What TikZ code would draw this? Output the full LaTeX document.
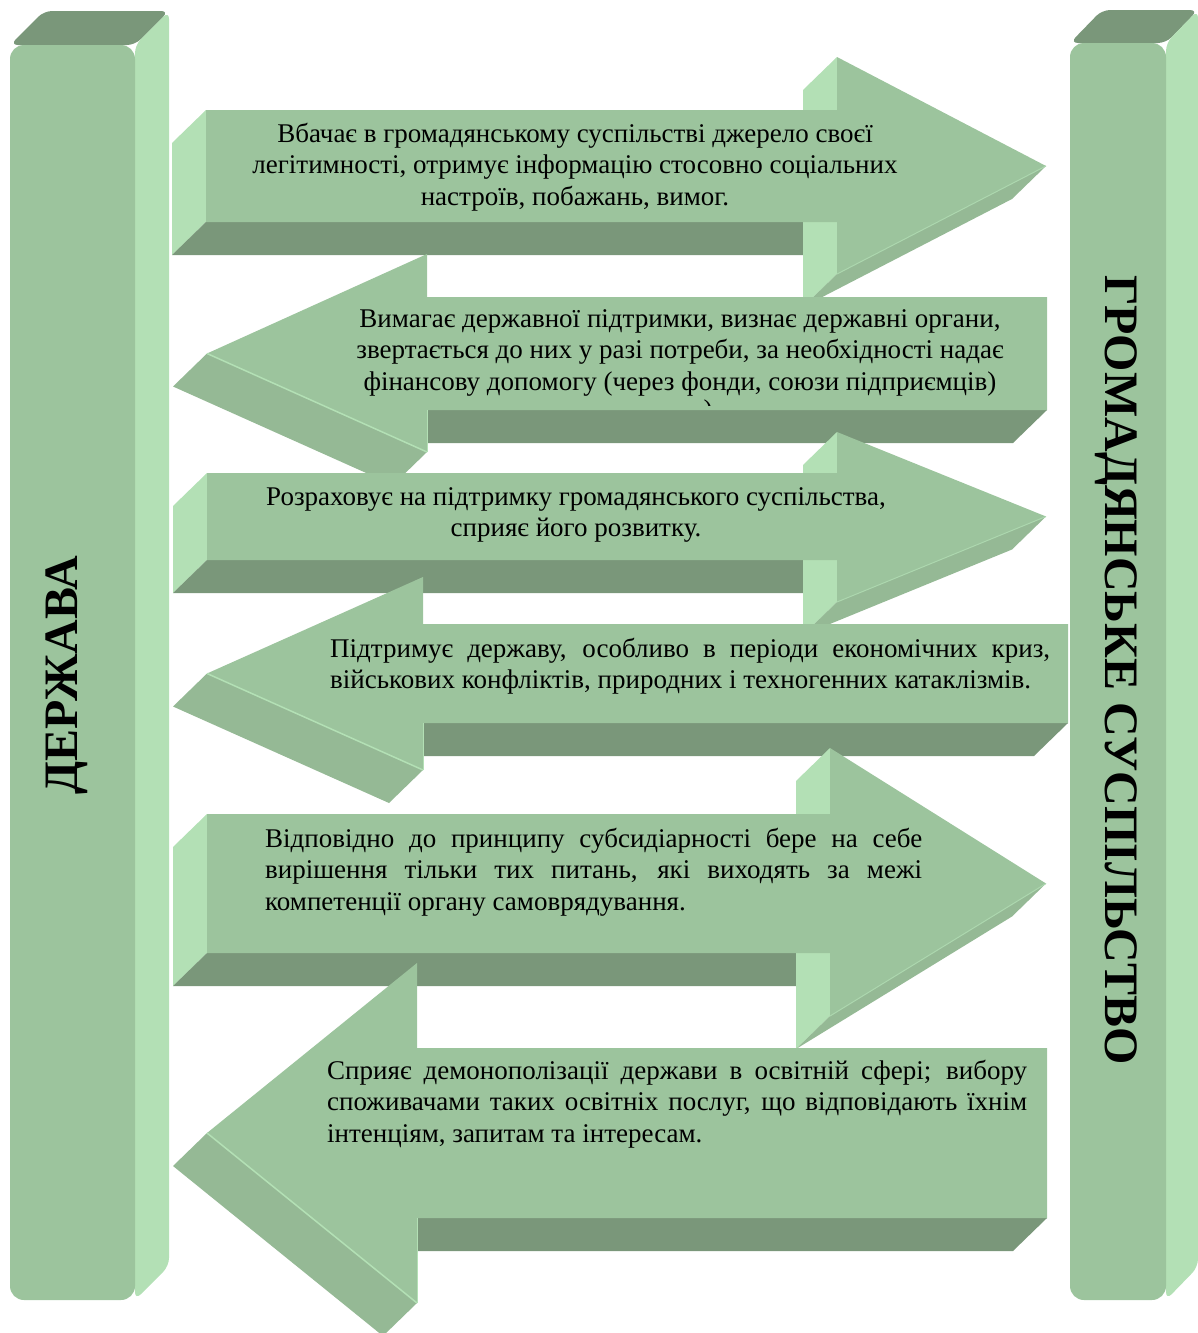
\documentclass[tikz,border=0pt]{standalone}
\usepackage{fontspec}
\setmainfont{Liberation Serif}
\usepackage{tikz}
\definecolor{facegreen}{HTML}{9CC49D}
\definecolor{litegreen}{HTML}{B3E0B5}
\definecolor{darkgreen}{HTML}{7A977A}
\definecolor{midgreen}{HTML}{95B995}
\tikzstyle{frontface}=[fill=facegreen]
\tikzstyle{sideface}=[fill=litegreen]
\tikzstyle{underface}=[fill=darkgreen]
\tikzstyle{slantface}=[fill=midgreen]
\tikzstyle{txt}=[inner sep=0pt, font=\fontsize{27}{31.5}\selectfont]
\tikzstyle{title}=[inner sep=0pt, font=\fontsize{48}{52}\selectfont\bfseries]

% justified line of a fixed width
\newcommand{\jline}[1]{\makebox[\linewidth][s]{#1}}

% arrow to the right: left x, top, bottom, head x, head top, head bottom, tip x
\newcommand{\pointR}[7]{%
  \pgfmathsetmacro{\midy}{(#2+#3)/2}
  \fill[sideface] (#1,#2) -- (#1,#3) -- ++(-34,33) -- (#1-34,#2+33) -- cycle;
  \fill[underface] (#1,#3) -- (#4,#3) -- ++(-34,33) -- (#1-34,#3+33) -- cycle;
  \fill[sideface] (#4,#5) -- (#4,#6) -- ++(-34,33) -- (#4-34,#5+33) -- cycle;
  \fill[slantface] (#4,#6) -- (#7,\midy) -- ++(-34,33) -- (#4-34,#6+33) -- cycle;
  \fill[frontface] (#1,#2) -- (#4,#2) -- (#4,#5) -- (#7,\midy) -- (#4,#6)
    -- (#4,#3) -- (#1,#3) -- cycle;
  \draw[litegreen!70!facegreen, line width=1pt] (#7,\midy) -- (#4,#6);
}
% arrow to the left: right x, top, bottom, head x, head top, head bottom, tip x
\newcommand{\pointL}[7]{%
  \pgfmathsetmacro{\midy}{(#2+#3)/2}
  \fill[underface] (#4,#3) -- (#1,#3) -- ++(-34,33) -- (#4-34,#3+33) -- cycle;
  \fill[slantface] (#7,\midy) -- (#4,#6) -- ++(-34,33) -- (#7-34,\midy+33) -- cycle;
  \fill[frontface] (#1,#2) -- (#4,#2) -- (#4,#5) -- (#7,\midy) -- (#4,#6)
    -- (#4,#3) -- (#1,#3) -- cycle;
  \draw[litegreen, line width=1.5pt] (#7,\midy) -- (#4,#6);
  \draw[litegreen, line width=1pt] (#4,#6) -- (#4,#3);
}

\begin{document}
\begin{tikzpicture}[x=1pt, y=-1pt]
  \useasboundingbox (0,0) rectangle (1198,1333);

  % the two columns
  \fill[underface, rounded corners=8pt] (10,45) -- (44,11) -- (169,11) -- (135,45) -- cycle;
  \fill[sideface, rounded corners=8pt] (135,45) -- (169,11) -- (169,1266) -- (135,1300) -- cycle;
  \fill[frontface, rounded corners=14pt] (10,45) rectangle (135,1300);

  \fill[underface, rounded corners=8pt] (1070,43) -- (1102,10) -- (1198,10) -- (1166,43) -- cycle;
  \fill[sideface, rounded corners=8pt] (1166,43) -- (1198,10) -- (1198,1267) -- (1166,1300) -- cycle;
  \fill[frontface, rounded corners=14pt] (1070,43) rectangle (1166,1300);

  \node[title, rotate=90] (state) at (67,675) {ДЕРЖАВА};
  \node[title, rotate=-90] (society) at (1116,670) {ГРОМАДЯНСЬКЕ СУСПІЛЬСТВО};

  % arrows, top to bottom
  \pointR{206}{110}{222}{837}{57}{274}{1046}
  \node[txt, anchor=base] (t1) at (575,142) {\parbox[t]{700pt}{\centering
    Вбачає в громадянському суспільстві джерело своєї\\
    легітимності, отримує інформацію стосовно соціальних\\
    настроїв, побажань, вимог.}};

  \pointL{1047}{297}{410}{427}{254}{452}{207}
  \node[txt, anchor=base] (t2) at (680,327) {\parbox[t]{700pt}{\centering
    Вимагає державної підтримки, визнає державні органи,\\
    звертається до них у разі потреби, за необхідності надає\\
    фінансову допомогу (через фонди, союзи підприємців)}};
  \begin{scope}
    \clip (600,380) rectangle (800,405);
    \node[txt, anchor=base] (t2b) at (708,418) {)};
  \end{scope}

  \pointR{207}{473}{560}{837}{432}{602}{1046}
  \node[txt, anchor=base] (t3) at (576,505) {\parbox[t]{700pt}{\centering
    Розраховує на підтримку громадянського суспільства,\\
    сприяє його розвитку.}};

  \pointL{1068}{624}{723}{423}{577}{770}{207}
  \node[txt, anchor=base west] (t4) at (330,657) {\parbox[t]{720pt}{%
    \jline{Підтримує державу, особливо в періоди економічних криз,}\\
    військових конфліктів, природних і техногенних катаклізмів.}};

  \pointR{207}{814}{953}{830}{748}{1016}{1046}
  \node[txt, anchor=base west] (t5) at (265,847) {\parbox[t]{657pt}{%
    \jline{Відповідно до принципу субсидіарності бере на себе}\\
    \jline{вирішення тільки тих питань, які виходять за межі}\\
    компетенції органу самоврядування.}};

  \pointL{1047}{1048}{1218}{417}{963}{1303}{207}
  \node[txt, anchor=base west] (t6) at (327,1079) {\parbox[t]{700pt}{%
    \jline{Сприяє демонополізації держави в освітній сфері; вибору}\\
    \jline{споживачами таких освітніх послуг, що відповідають їхнім}\\
    інтенціям, запитам та інтересам.}};
\end{tikzpicture}
\end{document}
